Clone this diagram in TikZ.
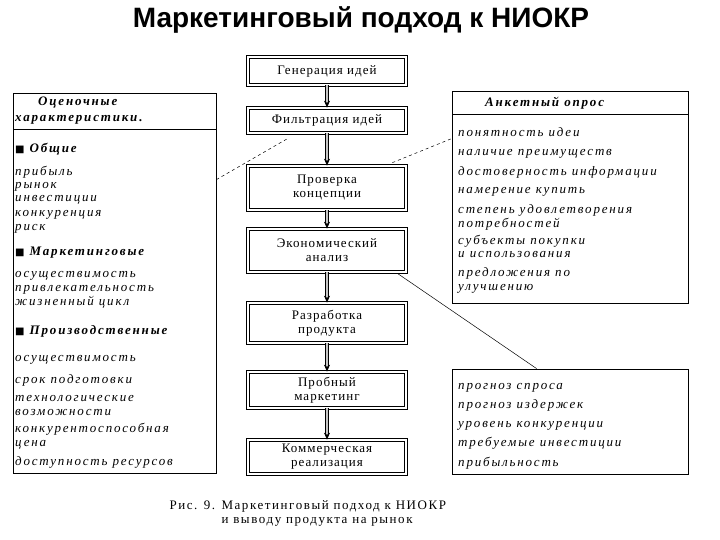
\documentclass[tikz,border=0pt]{standalone}
\usepackage{fontspec}
\setmainfont{Liberation Serif}
\newfontfamily\titlefont{Liberation Sans}
\newfontfamily\boxfont[LetterSpace=8]{Liberation Serif}
\newfontfamily\capfont[LetterSpace=12]{Liberation Serif}
\newfontfamily\listfont[LetterSpace=14]{Liberation Serif}
\newfontfamily\symfont{DejaVu Sans}
\usetikzlibrary{arrows.meta}

\tikzset{stage/.style={draw,double,double distance=2pt,line width=0.7pt,minimum width=158pt,inner sep=0pt,align=center,font=\boxfont\fontsize{13}{14}\selectfont},
    panel/.style={draw,line width=0.8pt,inner sep=0pt},
    item/.style={anchor=base west,inner sep=0pt,font=\listfont\itshape\fontsize{13}{14}\selectfont},
    head/.style={item,font=\listfont\bfseries\itshape\fontsize{13}{14}\selectfont},
    caption/.style={anchor=base west,font=\capfont\fontsize{13}{14}\selectfont},
    flow/.style={line width=0.6pt,double=gray!45,double distance=2.5pt,-{Stealth[length=7pt,width=6pt]}},
    link/.style={line width=0.5pt}}

\begin{document}
\begin{tikzpicture}[x=1pt,y=-1pt]
        \useasboundingbox (0,0) rectangle (720,540);
        \node[font=\titlefont\bfseries\fontsize{28}{32}\selectfont] (title) at (361,20) {Маркетинговый подход к НИОКР};

        \node[stage,minimum height=28pt] (gen) at (327,71) {Генерация идей};
        \node[stage,minimum height=25pt] (filt) at (327,120.5) {Фильтрация идей};
        \node[stage,minimum height=44pt] (conc) at (327,188) {Проверка\\концепции};
        \node[stage,minimum height=43pt] (econ) at (327,250.5) {Экономический\\анализ};
        \node[stage,minimum height=40pt] (dev) at (327,323) {Разработка\\продукта};
        \node[stage,minimum height=36pt] (test) at (327,390) {Пробный\\маркетинг};
        \node[stage,minimum height=34pt] (comm) at (327,457) {Коммерческая\\реализация};
        \foreach \a/\b in {gen/filt,filt/conc,conc/econ,econ/dev,dev/test,test/comm}
            \draw[flow] (\a.south) -- (\b.north);

        \node[panel,minimum width=203pt,minimum height=380pt] (lp) at (114.5,283) {};
        \draw[line width=0.8pt] (13,129) -- (216,129);
        \node[head] (ev1) at (38,106) {Оценочные};
        \node[head] (ev2) at (15,122) {характеристики.};
        \node[head] (hg) at (15,153) {{\symfont\fontsize{10}{10}\selectfont ■} Общие};
        \foreach \t/\y [count=\i] in {прибыль/176,рынок/189,инвестиции/202,конкуренция/216,риск/230}
            \node[item] (g\i) at (15,\y) {\t};
        \node[head] (hm) at (15,255) {{\symfont\fontsize{10}{10}\selectfont ■} Маркетинговые};
        \foreach \t/\y [count=\i] in {осуществимость/277,привлекательность/291,жизненный цикл/305}
            \node[item] (m\i) at (15,\y) {\t};
        \node[head] (hp) at (15,334) {{\symfont\fontsize{10}{10}\selectfont ■} Производственные};
        \foreach \t/\y [count=\i] in {осуществимость/361,срок подготовки/383,технологические/401,возможности/415,конкурентоспособная/432,цена/446,доступность ресурсов/465}
            \node[item] (p\i) at (15,\y) {\t};

        \node[panel,minimum width=236pt,minimum height=212pt] (rq) at (570,197) {};
        \draw[line width=0.8pt] (452,114) -- (688,114);
        \node[head] (rqh) at (485,107) {Анкетный опрос};
        \foreach \t/\y [count=\i] in {понятность идеи/137,наличие преимуществ/156,достоверность информации/176,намерение купить/194,степень удовлетворения/214,потребностей/227,субъекты покупки/244,и использования/258,предложения по/276,улучшению/290}
            \node[item] (q\i) at (458,\y) {\t};

        \node[panel,minimum width=236pt,minimum height=105pt] (rf) at (570,421.5) {};
        \foreach \t/\y [count=\i] in {прогноз спроса/389,прогноз издержек/408,уровень конкуренции/427,требуемые инвестиции/446,прибыльность/466}
            \node[item] (f\i) at (458,\y) {\t};

        \draw[link,dashed] ([yshift=-87pt]lp.north east) -- ([xshift=-39pt,yshift=-5pt]filt.south);
        \draw[link,dashed] ([xshift=-14pt,yshift=3pt]conc.north east) -- ([yshift=-48pt]rq.north west);
        \draw[link] ([xshift=-9pt,yshift=-1pt]econ.south east) -- ([xshift=85pt]rf.north west);

        \node[caption] (cap1) at (166,509) {Рис. 9. Маркетинговый подход к НИОКР};
        \node[caption] (cap2) at (218,523) {и выводу продукта на рынок};
\end{tikzpicture}
\end{document}
